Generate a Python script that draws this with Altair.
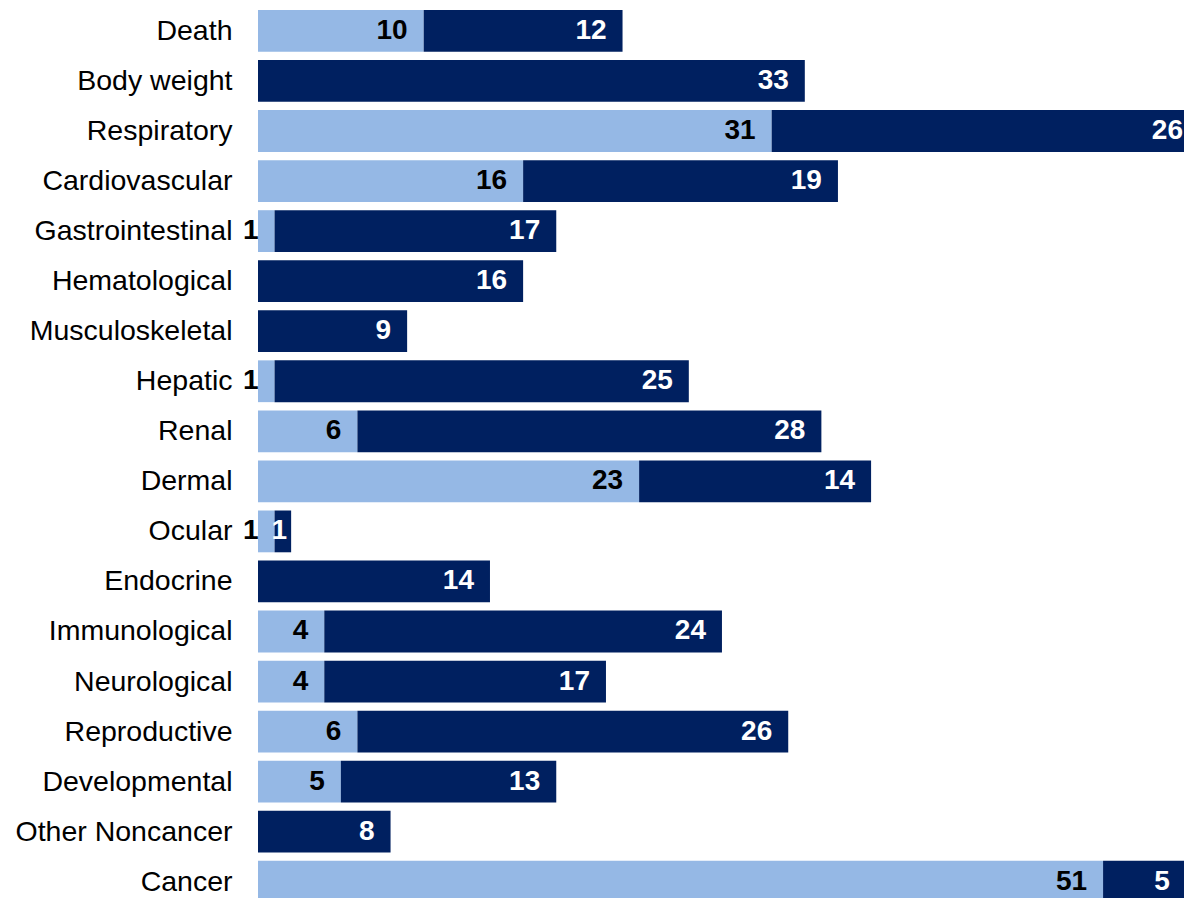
import altair as alt
import pandas as pd

categories = ["Death", "Body weight", "Respiratory", "Cardiovascular", "Gastrointestinal",
              "Hematological", "Musculoskeletal", "Hepatic", "Renal", "Dermal", "Ocular",
              "Endocrine", "Immunological", "Neurological", "Reproductive", "Developmental",
              "Other Noncancer", "Cancer"]
light_values = [10, 0, 31, 16, 1, 0, 0, 1, 6, 23, 1, 0, 4, 4, 6, 5, 0, 51]
dark_values = [12, 33, 26, 19, 17, 16, 9, 25, 28, 14, 1, 14, 24, 17, 26, 13, 8, 5]

LIGHT = "#95B8E5"
DARK = "#002060"

rows = []
for i, c in enumerate(categories):
    lv, dv = light_values[i], dark_values[i]
    rows.append({"cat": c, "series": "light", "order": 0, "value": lv, "start": 0, "end": lv})
    rows.append({"cat": c, "series": "dark", "order": 1, "value": dv, "start": lv, "end": lv + dv})
df = pd.DataFrame(rows)

UNIT = 16.57          # pixels per unit
PLOT_W = 926
PLOT_H = 890
XMAX = PLOT_W / UNIT
STEP = 50.05

xscale = alt.Scale(domain=[0, XMAX], nice=False, zero=True)
y0 = 2 - 0.0825 * STEP
yscale = alt.Scale(paddingInner=0.165, paddingOuter=0.0825, range=[y0, y0 + 18 * STEP])

base = alt.Chart(df).transform_filter("datum.value > 0")

bars = base.mark_bar(clip=True).encode(
    y=alt.Y("cat:N", sort=categories, scale=yscale,
            axis=alt.Axis(title=None, ticks=False, domain=False, labelFontSize=28.5,
                          labelFont="Liberation Sans", labelColor="#000000",
                          labelPadding=26, labelLimit=400)),
    x=alt.X("start:Q", scale=xscale, axis=None),
    x2="end:Q",
    color=alt.Color("series:N", scale=alt.Scale(domain=["light", "dark"], range=[LIGHT, DARK]),
                    legend=None),
)

labels = base.transform_calculate(
    lx=(f"min((datum.series == 'dark' && datum.value < 2) ? datum.end - {4 / UNIT} "
        f": datum.end - {16 / UNIT}, {XMAX - 1 / UNIT})")
).mark_text(align="right", baseline="middle", font="Liberation Sans", fontSize=28,
            fontWeight="bold").encode(
    y=alt.Y("cat:N", sort=categories, scale=yscale),
    x=alt.X("lx:Q", scale=xscale),
    text=alt.Text("value:Q"),
    color=alt.Color("series:N", scale=alt.Scale(domain=["light", "dark"], range=["#000000", "#FFFFFF"]),
                    legend=None),
)

chart = alt.layer(bars, labels).resolve_scale(color="independent").properties(
    width=PLOT_W,
    height=PLOT_H,
    autosize=alt.AutoSizeParams(type="none"),
    padding={"left": 250, "top": 0, "right": 0, "bottom": 0},
).configure_view(stroke=None)

chart.save("out.html", embed_options={"renderer": "svg", "actions": False})
